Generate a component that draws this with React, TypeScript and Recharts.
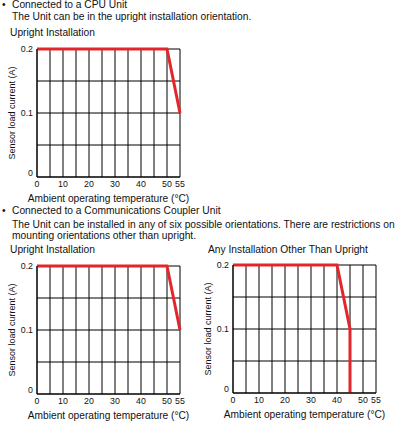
import React from "react";
import { LineChart, Line, XAxis, YAxis, CartesianGrid } from "recharts";

// temperature (°C) vs. sensor load current (A)
const uprightTemps = [0, 50, 55];
const uprightCurrents = [0.2, 0.2, 0.1];
const otherTemps = [0, 40, 45, 45];
const otherCurrents = [0.2, 0.2, 0.1, 0];

const xTicks = [0, 10, 20, 30, 40, 50, 55];
const yTicks = [0, 0.1, 0.2];
const xGrid = [0, 5, 10, 15, 20, 25, 30, 35, 40, 45, 50, 55];
const yGrid = [0, 0.05, 0.1, 0.15, 0.2];

const FONT = '"Liberation Sans", Arial, sans-serif';
const TEXT = "#111";
const RED = "#e3262b";

const toRows = (xs: number[], ys: number[]) => xs.map((t, i) => ({ t, a: ys[i] }));

const YTick = (props: any) => {
  const { x, y, payload } = props;
  const dy = payload.value === 0 ? -4 : 0;
  return (
    <text x={x} y={y + dy} dy="0.35em" textAnchor="end" fontSize={8.8} fill={TEXT} fontFamily={FONT}>
      {payload.value}
    </text>
  );
};

const Derating = ({ left, top, xs, ys }: { left: number; top: number; xs: number[]; ys: number[] }) => (
  <div style={{ position: "absolute", left: left - 37, top: top - 20 }}>
    <LineChart
      width={200}
      height={183}
      data={toRows(xs, ys)}
      margin={{ top: 20, right: 20, left: 5, bottom: 0 }}
    >
      <CartesianGrid
        stroke="#000"
        strokeWidth={1}
        verticalValues={xGrid}
        horizontalValues={yGrid}
        fill="#fff"
      />
      <XAxis
        dataKey="t"
        type="number"
        domain={[0, 55]}
        ticks={xTicks}
        interval={0}
        height={35}
        tickLine={false}
        tickSize={0}
        tickMargin={4}
        axisLine={{ stroke: "#000" }}
        tick={{ fontSize: 8.8, fill: TEXT, fontFamily: FONT }}
        label={{
          value: "Ambient operating temperature (°C)",
          position: "insideBottom",
          offset: 10,
          style: { fontSize: 10.2, fill: TEXT, fontFamily: FONT },
        }}
      />
      <YAxis
        type="number"
        domain={[0, 0.2]}
        ticks={yTicks}
        interval={0}
        width={32}
        tickLine={false}
        tickSize={0}
        tickMargin={4}
        axisLine={{ stroke: "#000" }}
        tick={<YTick />}
        label={{
          value: "Sensor load current (A)",
          angle: -90,
          position: "insideLeft",
          offset: 7,
          style: { textAnchor: "middle", fontSize: 9, fill: TEXT, fontFamily: FONT },
        }}
      />
      <Line
        dataKey="a"
        type="linear"
        stroke={RED}
        strokeWidth={3}
        dot={false}
        isAnimationActive={false}
      />
    </LineChart>
  </div>
);

const Txt = ({ x, y, children }: { x: number; y: number; children: React.ReactNode }) => (
  <div
    style={{
      position: "absolute",
      left: x,
      top: y - 6,
      lineHeight: "12px",
      fontSize: 10.25,
      fontFamily: FONT,
      color: TEXT,
      whiteSpace: "nowrap",
    }}
  >
    {children}
  </div>
);

export default function App() {
  return (
    <div
      style={{
        position: "fixed",
        left: 0,
        top: 0,
        width: 396,
        height: 423,
        background: "#fff",
        overflow: "hidden",
      }}
    >
      <Txt x={2} y={5}>•</Txt>
      <Txt x={12} y={5}>Connected to a CPU Unit</Txt>
      <Txt x={12} y={17}>The Unit can be in the upright installation orientation.</Txt>
      <Txt x={10} y={33}>Upright Installation</Txt>
      <Derating left={37} top={48.5} xs={uprightTemps} ys={uprightCurrents} />

      <Txt x={2} y={211}>•</Txt>
      <Txt x={12} y={211}>Connected to a Communications Coupler Unit</Txt>
      <Txt x={12} y={224.5}>
        The Unit can be installed in any of six possible orientations. There are restrictions on
      </Txt>
      <Txt x={12} y={236}>mounting orientations other than upright.</Txt>
      <Txt x={10} y={250}>Upright Installation</Txt>
      <Txt x={208} y={250}>Any Installation Other Than Upright</Txt>
      <Derating left={37} top={266} xs={uprightTemps} ys={uprightCurrents} />
      <Derating left={233} top={265} xs={otherTemps} ys={otherCurrents} />
    </div>
  );
}
